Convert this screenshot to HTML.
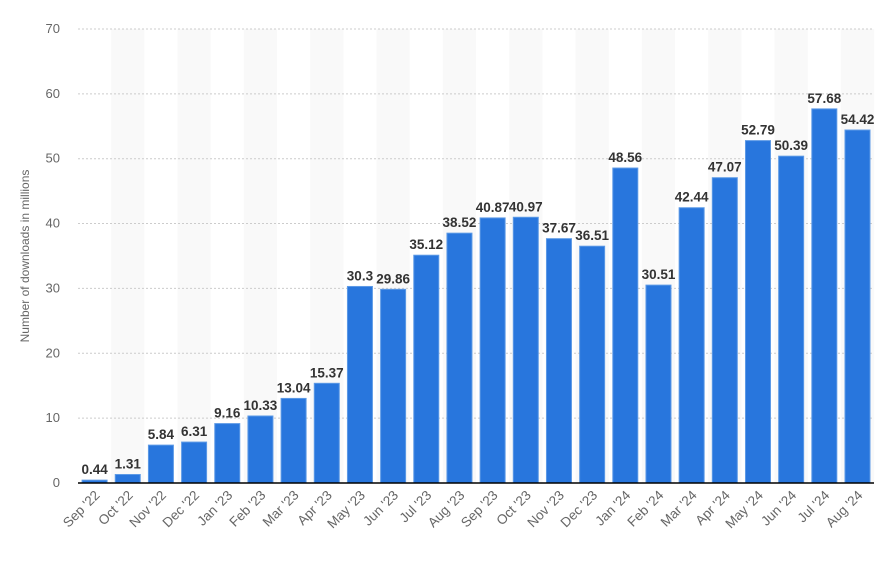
<!DOCTYPE html><html><head><style>body{margin:0;background:#fff}svg{display:block;font-family:"Liberation Sans",sans-serif}</style></head><body>
<svg width="892" height="562" id="s"></svg>
<script>
const v=[0.44,1.31,5.84,6.31,9.16,10.33,13.04,15.37,30.3,29.86,35.12,38.52,40.87,40.97,37.67,36.51,48.56,30.51,42.44,47.07,52.79,50.39,57.68,54.42];
const m=["Sep '22","Oct '22","Nov '22","Dec '22","Jan '23","Feb '23","Mar '23","Apr '23","May '23","Jun '23","Jul '23","Aug '23","Sep '23","Oct '23","Nov '23","Dec '23","Jan '24","Feb '24","Mar '24","Apr '24","May '24","Jun '24","Jul '24","Aug '24"];
const x0=78,sw=33.17,y0=483,k=6.486;let h='';
for(let i=1;i<24;i+=2)h+=`<rect x="${x0+sw*i}" y="29" width="${sw}" height="454" fill="#f9f9f9"/>`;
for(let t=0;t<=70;t+=10){const y=y0-t*k;if(t)h+=`<line x1="${x0}" x2="874" y1="${y}" y2="${y}" stroke="#ccc" stroke-dasharray="2,2"/>`;h+=`<text x="60" y="${y+4}" text-anchor="end" font-size="13" fill="#666">${t}</text>`}
v.forEach((d,i)=>{const c=x0+sw*(i+.5),y=y0-d*k;h+=`<rect x="${c-12.5}" y="${y}" width="25" height="${d*k}" fill="#2876dd" stroke="#5d9ae6" stroke-width="1"/>`;h+=`<text x="${c}" y="${y-6}" text-anchor="middle" font-size="13.5" font-weight="bold" fill="#333">${d}</text>`;h+=`<text transform="translate(${c+6},${y0+13}) rotate(-45)" text-anchor="end" font-size="13.5" fill="#666">${m[i]}</text>`});
h+=`<line x1="${x0}" x2="874" y1="${y0}" y2="${y0}" stroke="#000" stroke-width="1.5"/>`;
h+=`<text transform="translate(29,256) rotate(-90)" text-anchor="middle" font-size="12" fill="#666">Number of downloads in millions</text>`;
document.getElementById('s').innerHTML=h;
</script></body></html>
